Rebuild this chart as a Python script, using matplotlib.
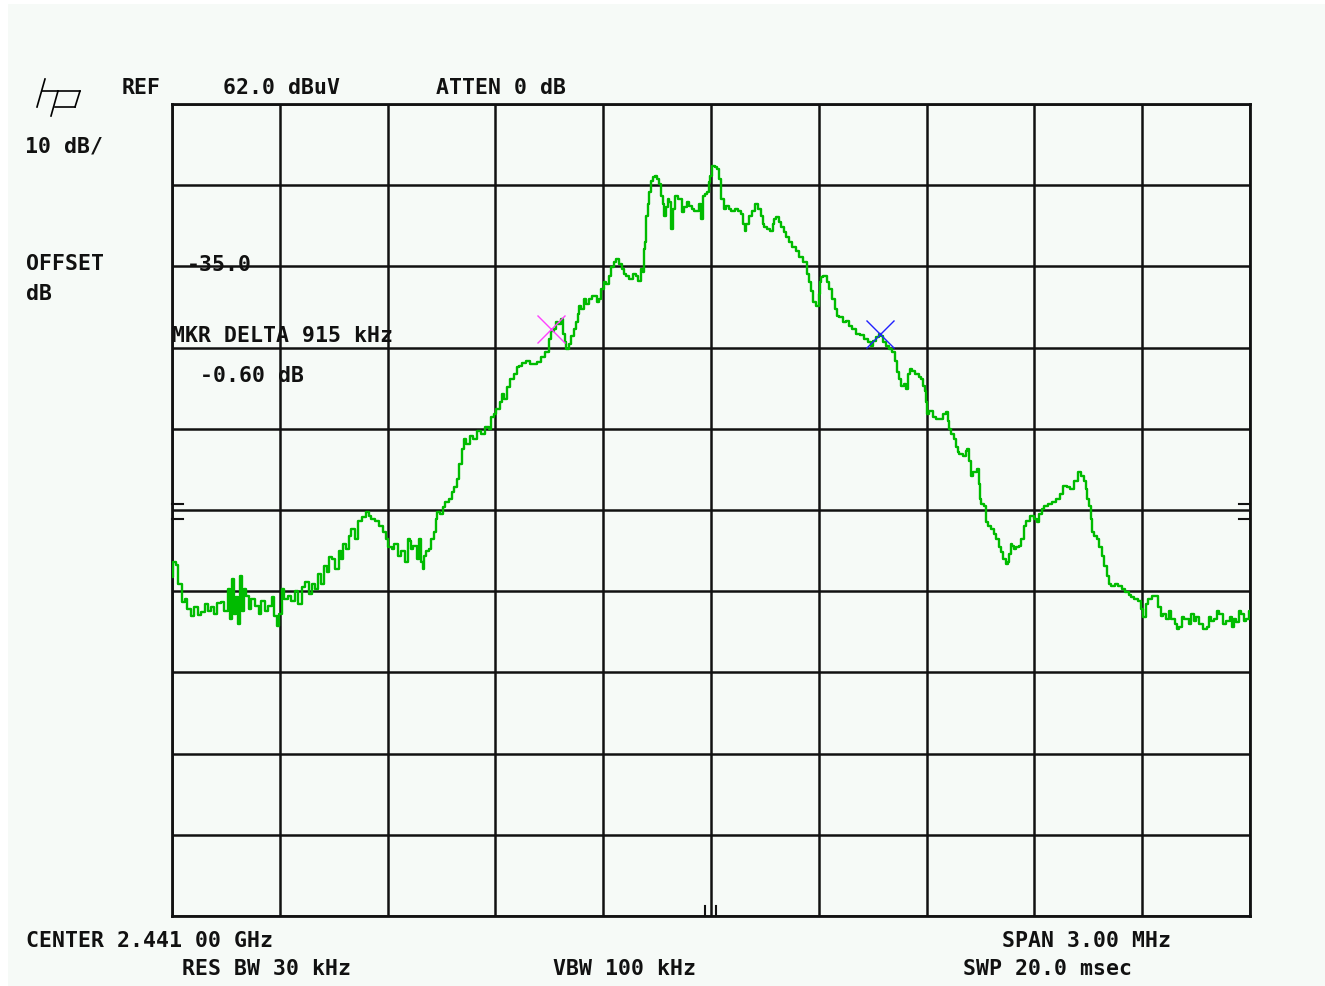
import matplotlib.pyplot as plt
import numpy as np
from matplotlib.patches import Rectangle
from matplotlib.lines import Line2D

# trace: frequency offset from centre (kHz), level (dBuV)
freq_khz = [
    -1500, -1492, -1486, -1478, -1469, -1461, -1453, -1442, -1433, -1425,
    -1414, -1405, -1397, -1386, -1378, -1369, -1358, -1350, -1341, -1336,
    -1330, -1325, -1319, -1314, -1308, -1302, -1297, -1291, -1283, -1275,
    -1263, -1255, -1247, -1238, -1227, -1219, -1211, -1205, -1199, -1191,
    -1183, -1172, -1163, -1152, -1144, -1135, -1124, -1116, -1105, -1097,
    -1088, -1080, -1074, -1066, -1058, -1052, -1041, -1032, -1027, -1019,
    -1010, -1005, -996, -988, -977, -966, -957, -949, -941, -930,
    -916, -907, -902, -893, -885, -877, -866, -857, -846, -840,
    -838, -832, -824, -815, -810, -804, -799, -796, -788, -782,
    -774, -768, -763, -760, -751, -743, -735, -726, -718, -710,
    -704, -696, -690, -685, -676, -668, -657, -646, -635, -623,
    -615, -607, -601, -593, -584, -579, -571, -562, -554, -545,
    -537, -532, -520, -512, -495, -476, -468, -456, -448, -442,
    -434, -429, -420, -415, -409, -406, -401, -392, -387, -378,
    -373, -367, -365, -356, -351, -342, -337, -328, -323, -314,
    -309, -301, -295, -287, -281, -273, -267, -259, -253, -245,
    -239, -234, -225, -220, -212, -206, -198, -192, -189, -186,
    -184, -178, -175, -170, -164, -161, -153, -147, -142, -136,
    -131, -128, -122, -117, -114, -111, -109, -103, -95, -86,
    -78, -72, -64, -58, -50, -45, -36, -31, -25, -22,
    -14, -8, -3, 0, 6, 14, 19, 25, 31, 39,
    47, 53, 61, 72, 81, 86, 92, 95, 100, 109,
    117, 128, 136, 142, 147, 150, 159, 170, 175, 178,
    186, 192, 200, 206, 214, 220, 231, 242, 250, 262,
    270, 276, 281, 289, 298, 301, 303, 309, 317, 326,
    331, 340, 348, 353, 362, 373, 381, 387, 398, 409,
    420, 434, 442, 448, 456, 465, 470, 476, 484, 490,
    498, 507, 515, 520, 526, 534, 540, 545, 551, 554,
    562, 573, 582, 587, 593, 596, 598, 601, 604, 612,
    623, 632, 643, 651, 657, 662, 665, 671, 679, 685,
    687, 696, 707, 712, 715, 721, 726, 735, 743, 746,
    749, 754, 763, 765, 768, 776, 785, 790, 799, 804,
    810, 818, 824, 827, 832, 838, 840, 846, 854, 860,
    866, 874, 882, 893, 902, 910, 916, 924, 932, 943,
    955, 966, 974, 985, 994, 1005, 1016, 1027, 1035, 1041,
    1046, 1049, 1055, 1060, 1063, 1071, 1077, 1083, 1091, 1097,
    1105, 1110, 1119, 1127, 1138, 1147, 1158, 1166, 1174, 1183,
    1194, 1199, 1208, 1213, 1222, 1230, 1241, 1247, 1255, 1263,
    1272, 1277, 1286, 1294, 1300, 1305, 1314, 1319, 1325, 1333,
    1339, 1347, 1355, 1361, 1366, 1375, 1383, 1389, 1394, 1403,
    1411, 1417, 1422, 1430, 1439, 1447, 1453, 1458, 1464, 1472,
    1478, 1486, 1494, 1500,
]
level_db = [
    3.8, 5.6, 5.2, 2.9, 0.7, 1.0, -0.2, -1.1, 0.1, -0.9,
    -0.6, 0.4, -0.4, 0.1, -0.8, 0.5, 0.7, -0.4, 2.3, -1.4,
    3.5, -0.8, 1.3, -2.0, 3.9, -0.4, 2.3, 1.4, -0.2, 1.0,
    0.2, -0.8, 0.8, -0.4, 0.2, 1.3, -1.1, -2.3, -0.8, 2.3,
    1.0, 1.4, 0.8, 2.0, 0.4, 2.5, 3.1, 1.7, 2.9, 2.3,
    4.1, 2.9, 5.1, 4.4, 6.2, 6.0, 4.7, 6.9, 6.0, 7.8,
    7.2, 8.8, 9.7, 8.4, 10.6, 11.1, 11.8, 11.3, 10.9, 10.6,
    10.0, 9.3, 8.4, 7.4, 7.2, 7.8, 6.3, 6.9, 5.6, 8.4,
    8.2, 7.2, 7.6, 6.0, 8.4, 5.6, 4.7, 6.3, 6.9, 7.2,
    8.4, 9.3, 10.9, 11.8, 11.5, 12.4, 13.0, 13.4, 14.2, 14.8,
    15.8, 17.7, 19.5, 20.7, 20.1, 21.1, 20.7, 21.7, 21.4, 22.2,
    22.0, 23.5, 23.8, 24.4, 25.3, 26.3, 25.7, 27.1, 28.1, 28.8,
    29.6, 29.7, 30.1, 30.4, 30.0, 30.2, 30.8, 31.5, 33.1, 34.0,
    34.3, 35.2, 34.9, 35.5, 33.7, 32.7, 31.8, 32.4, 33.4, 34.3,
    35.2, 36.1, 37.1, 36.8, 38.0, 37.4, 38.0, 38.4, 38.4, 37.6,
    38.0, 39.2, 40.1, 39.8, 40.8, 41.9, 42.5, 42.9, 42.3, 41.7,
    41.1, 40.8, 40.4, 40.4, 41.1, 40.8, 40.2, 41.7, 41.3, 44.1,
    45.0, 48.2, 49.7, 51.2, 52.5, 53.0, 53.1, 52.8, 52.1, 50.7,
    49.7, 48.2, 49.3, 50.3, 49.9, 48.5, 46.6, 49.1, 50.7, 50.3,
    48.7, 49.3, 49.9, 49.4, 49.1, 48.8, 48.8, 49.7, 47.8, 50.7,
    50.9, 51.2, 52.4, 53.1, 54.4, 54.2, 54.0, 52.8, 50.3, 49.1,
    49.4, 49.1, 48.8, 49.1, 48.8, 48.5, 47.2, 46.4, 47.2, 48.2,
    48.8, 49.7, 49.1, 48.2, 47.2, 46.9, 46.6, 46.4, 47.2, 47.8,
    48.1, 47.5, 46.9, 46.2, 45.6, 45.0, 44.4, 43.9, 43.2, 42.5,
    41.1, 40.1, 39.0, 37.6, 37.1, 38.6, 40.1, 40.7, 40.8, 40.1,
    39.2, 38.0, 36.8, 35.9, 35.8, 35.2, 35.3, 34.7, 34.3, 33.7,
    33.5, 33.1, 32.7, 32.2, 32.8, 33.3, 33.7, 33.4, 32.7, 32.2,
    31.8, 31.5, 30.4, 29.0, 28.1, 27.3, 27.5, 26.9, 28.8, 29.4,
    29.1, 28.8, 28.4, 28.1, 27.3, 26.7, 25.7, 25.3, 23.8, 24.2,
    23.5, 23.2, 23.2, 23.8, 24.1, 23.0, 22.0, 21.4, 20.7, 19.8,
    19.1, 18.9, 18.7, 19.3, 19.5, 18.0, 16.2, 16.7, 17.0, 15.2,
    13.4, 12.7, 12.5, 11.5, 10.5, 10.0, 9.7, 9.0, 8.4, 7.4,
    6.8, 6.0, 5.4, 5.6, 6.6, 7.8, 7.6, 7.2, 7.4, 7.6,
    8.4, 10.0, 10.6, 11.3, 10.9, 10.5, 11.5, 12.1, 12.5, 12.7,
    13.0, 13.4, 14.0, 15.0, 14.8, 14.6, 15.6, 16.7, 16.2, 15.6,
    14.6, 13.4, 12.5, 10.9, 9.3, 8.8, 8.4, 7.4, 6.3, 5.1,
    3.9, 2.9, 2.6, 2.9, 2.6, 2.3, 1.9, 1.5, 1.3, 1.0,
    0.8, -0.2, -1.2, 0.4, 1.0, 1.4, 1.4, 0.1, -1.1, -0.8,
    -1.4, -0.4, -1.4, -2.0, -2.7, -2.4, -1.2, -1.4, -1.4, -2.0,
    -0.8, -1.7, -1.2, -2.0, -2.0, -2.7, -2.4, -1.2, -1.7, -1.4,
    -0.4, -0.8, -0.8, -2.0, -1.7, -1.2, -2.4, -1.4, -1.8, -0.4,
    -0.8, -1.7, -1.4, -0.4,
]

marker_khz = [-445, 470]
marker_db = [34.3, 33.7]
marker_colors = ['#ff40ff', '#2020ff']

ref_level = 62.0
db_per_div = 10
span_khz = 3000

W, H = 1325, 987
fig = plt.figure(figsize=(W / 100, H / 100), dpi=100, facecolor='white')


def fx(x):
    return x / W


def fy(y):
    return 1 - y / H


# light screen background
fig.add_artist(Rectangle((fx(8), 0), 1 - fx(8), fy(5), transform=fig.transFigure,
                         facecolor='#f6faf7', edgecolor='none', zorder=-10))

ax = fig.add_axes([fx(172), fy(917), fx(1250) - fx(172), fy(105) - fy(917)])
ax.set_zorder(5)
ax.set_facecolor('#f6faf7')
ax.set_xlim(-span_khz / 2, span_khz / 2)
ax.set_ylim(ref_level - 10 * db_per_div, ref_level)
ax.set_xticks(np.linspace(-span_khz / 2, span_khz / 2, 11))
ax.set_yticks(np.arange(ref_level - 10 * db_per_div, ref_level + 1, db_per_div))
ax.grid(True, color='#111111', linewidth=1.8)
ax.tick_params(length=0, labelleft=False, labelbottom=False)
for s in ax.spines.values():
    s.set_linewidth(2.0)
    s.set_color('#111111')

ax.plot(freq_khz, level_db, color='#00bb00', linewidth=1.7, drawstyle='steps-mid', zorder=3)
for k, d, c in zip(marker_khz, marker_db, marker_colors):
    ax.plot(k, d, marker='x', markersize=20, markeredgewidth=1.0, color=c, zorder=4)

# display line marks on the edges and centre ticks
for d in [12.7, 10.9]:
    ax.plot([-1500, -1470], [d, d], color='#111111', lw=1.5, clip_on=False)
    ax.plot([1470, 1500], [d, d], color='#111111', lw=1.5, clip_on=False)
for k in [-17, 14]:
    ax.plot([k, k], [-38, -36.8], color='#111111', lw=1.5, clip_on=False)

# hp logo
for xs, ys in [([45, 37], [80, 108]), ([42, 58], [92, 92]), ([58, 51], [92, 117]),
               ([58, 80], [92, 92]), ([80, 75], [92, 108]), ([75, 55], [108, 108])]:
    fig.add_artist(Line2D([fx(v) for v in xs], [fy(v) for v in ys],
                          color='black', lw=1.2, transform=fig.transFigure))

mono = dict(family='DejaVu Sans Mono', fontweight='bold', fontsize=15.5, color='#111111',
            va='center', ha='left', zorder=10)
labels = [
    (122, 88, 'REF'), (223, 88, '62.0 dBuV'), (436, 88, 'ATTEN 0 dB'),
    (25, 147, '10 dB/'), (26, 264, 'OFFSET'), (26, 294, 'dB'),
    (187, 265, '-35.0'), (172, 336, 'MKR DELTA 915 kHz'), (200, 376, '-0.60 dB'),
    (26, 941, 'CENTER 2.441 00 GHz'), (1002, 941, 'SPAN 3.00 MHz'),
    (182, 969, 'RES BW 30 kHz'), (553, 969, 'VBW 100 kHz'), (963, 969, 'SWP 20.0 msec'),
]
for x, y, t in labels:
    fig.text(fx(x), fy(y), t, **mono)

fig.savefig('out.png', dpi=100, facecolor=fig.get_facecolor())
